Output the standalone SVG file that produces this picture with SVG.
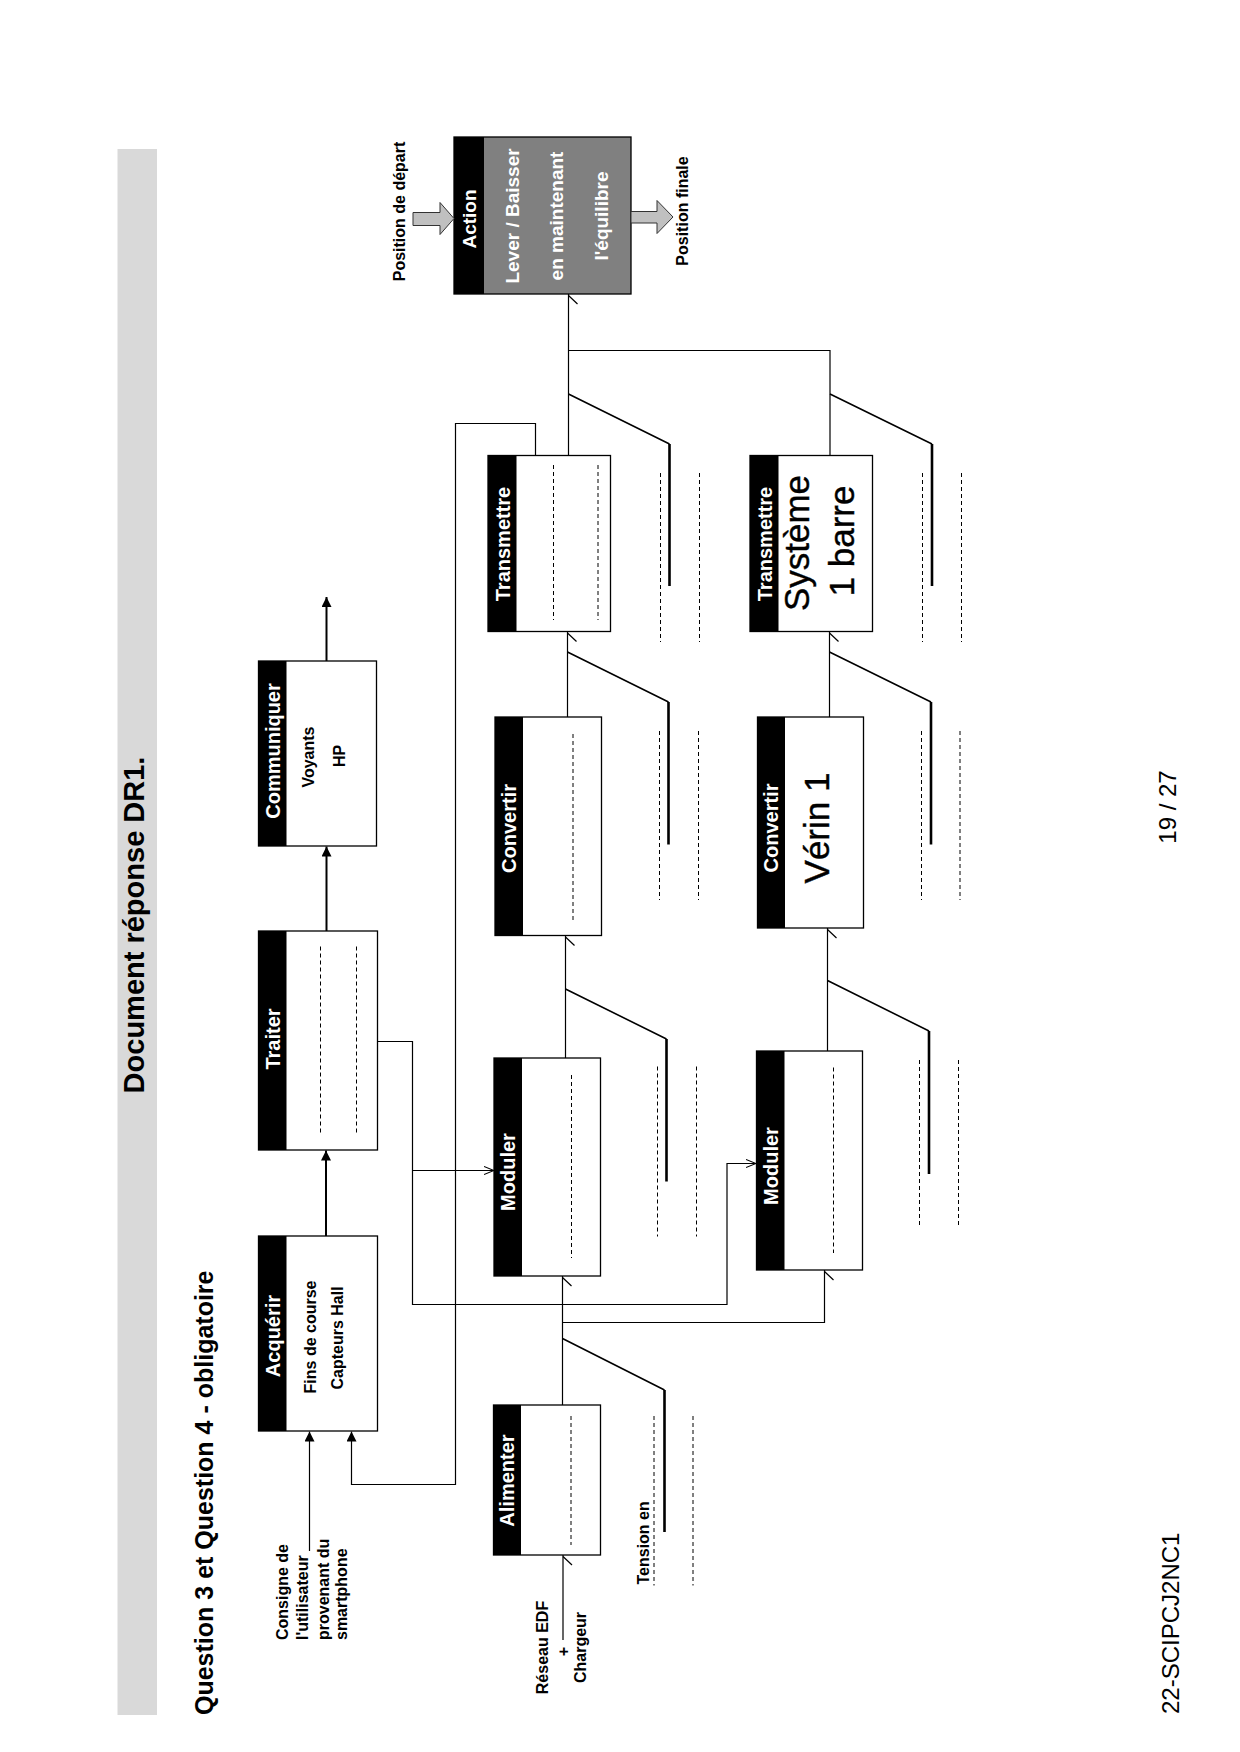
<svg xmlns="http://www.w3.org/2000/svg" width="1240" height="1752" viewBox="0 0 1240 1752">
<style>
text{font-family:"Liberation Sans",Arial,sans-serif;dominant-baseline:central}
.box{fill:#fff;stroke:#000;stroke-width:1.3}
.hdr{fill:#000}
.ht{font-size:20px;font-weight:bold;fill:#fff;text-anchor:middle}
.at{font-size:19px;font-weight:bold;fill:#fff;text-anchor:middle}
.bt{font-size:16px;font-weight:bold;fill:#000;text-anchor:middle}
.lb{font-size:16px;font-weight:bold;fill:#000}
.big{font-size:35px;fill:#000;stroke:#000;stroke-width:0.4;text-anchor:middle}
.ln{stroke:#000;stroke-width:1.2;fill:none}
.fl{stroke:#000;stroke-width:2;fill:none}
.dg{stroke:#000;stroke-width:1.6;fill:none}
.th{stroke:#000;stroke-width:2.6;fill:none}
.ds{stroke:#000;stroke-width:1;stroke-dasharray:4 3;fill:none}
.ba{fill:#c0c0c0;stroke:#333;stroke-width:1}
</style>
<defs>
<marker id="fa" viewBox="0 0 10 10" refX="10" refY="5" markerWidth="10" markerHeight="10" markerUnits="userSpaceOnUse" orient="auto"><path d="M0,0 L10,5 L0,10 z" fill="#000"/></marker>
<marker id="oa" viewBox="0 0 10 10" refX="10" refY="5" markerWidth="10" markerHeight="10" markerUnits="userSpaceOnUse" orient="auto"><path d="M0,1 L10,5 L0,9" fill="none" stroke="#000" stroke-width="1.1"/></marker>
</defs>
<rect width="1240" height="1752" fill="#fff"/>
<g id="page">
<rect x="117.5" y="149" width="39.5" height="1566" fill="#d9d9d9"/>
<text transform="translate(134,925) rotate(-90)" font-size="29" font-weight="bold" text-anchor="middle">Document réponse DR1.</text>
<text transform="translate(204,1715) rotate(-90)" font-size="25" font-weight="bold">Question 3 et Question 4 - obligatoire</text>
<text transform="translate(1167,807) rotate(-90)" font-size="24" text-anchor="middle">19 / 27</text>
<text transform="translate(1170,1714) rotate(-90)" font-size="24">22-SCIPCJ2NC1</text>
</g>
<g id="connectors">
<path class="ln" d="M568.5,294 V455.5 M568.5,350.5 H830 V455.5"/>
<path class="ln" d="M567.5,631.5 V717 M565.5,935.5 V1058 M562.5,1276 V1405 M563,1555 V1640"/>
<path class="ln" d="M562.5,1322.5 H824.5 V1270"/>
<path class="ln" d="M829.5,631.5 V717 M827.5,928 V1051"/>
<path class="ln" d="M377.5,1041.5 H412.5 V1304.5 H727 V1163.5 H756" marker-end="url(#oa)"/>
<path class="ln" d="M412.5,1170.5 H494" marker-end="url(#oa)"/>
<path class="ln" d="M535.5,455.5 V423.5 H455.5 V1484.5 H351.5 V1431.5" marker-end="url(#fa)"/>
<path class="ln" d="M309.5,1551 V1431.5" marker-end="url(#fa)"/>
<path class="fl" d="M326,1236 V1150.5" marker-end="url(#fa)"/>
<path class="fl" d="M326.5,931 V846.5" marker-end="url(#fa)"/>
<path class="fl" d="M326.5,661 V597" marker-end="url(#fa)"/>
<path class="ln" d="M568.5,295.5 l9,8.5 M567.5,633 l9,8.5 M565.5,937 l9,8.5 M562.5,1277.5 l9,8.5 M563,1556.5 l9,8.5 M829.5,633 l9,8.5 M827.5,929.5 l9,8.5 M824.5,1271.5 l9,8.5"/>
<path class="dg" d="M568.5,394 L669.5,444 M830,394 L932,444 M567.5,652 L668.5,702 M829.5,652 L931,702 M565.5,989 L666.5,1039 M827.5,980.5 L929,1031 M562.5,1338.5 L664.5,1390"/>
<path class="th" d="M669.5,444 V586 M932,444 V586 M668.5,702 V844.5 M931,702 V844.5 M666.5,1039 V1181.5 M929,1031 V1174 M664.5,1390 V1532"/>
<path class="ds" d="M660.5,473 V642 M699.5,473 V642 M922.5,473 V642 M961.5,473 V642 M659.5,731 V900 M698.5,731 V900 M921.5,731 V900 M960,731 V900 M657.5,1066.5 V1236.5 M696.5,1066.5 V1236.5 M919.5,1060 V1228 M958.5,1060 V1228 M654,1416 V1585.5 M693,1416 V1585.5"/>
</g>
<g id="action">
<rect x="454" y="137" width="177" height="157" fill="#808080" stroke="#000" stroke-width="1.3"/>
<rect x="454" y="137" width="30" height="157" class="hdr"/>
<text class="at" transform="translate(469,219) rotate(-90)">Action</text>
<text class="at" transform="translate(512.5,216) rotate(-90)">Lever / Baisser</text>
<text class="at" transform="translate(556.5,216) rotate(-90)">en maintenant</text>
<text class="at" transform="translate(601,216) rotate(-90)">l'équilibre</text>
</g>
<g id="pos-depart">
<polygon class="ba" points="413,212.5 440,212.5 440,202.5 454,218.5 440,234.5 440,225.5 413,225.5"/>
<text class="bt" transform="translate(399,211.5) rotate(-90)">Position de départ</text>
</g>
<g id="pos-finale">
<polygon class="ba" points="631,211.5 657,211.5 657,200.5 673,217 657,233.5 657,223 631,223"/>
<text class="bt" transform="translate(682.5,211) rotate(-90)">Position finale</text>
</g>
<g id="acquerir">
<rect class="box" x="258.5" y="1236" width="119" height="195"/>
<rect class="hdr" x="258.5" y="1236" width="28" height="195"/>
<text class="ht" transform="translate(272.5,1336) rotate(-90)">Acquérir</text>
<text class="bt" transform="translate(310.5,1337) rotate(-90)">Fins de course</text>
<text class="bt" transform="translate(337.5,1338) rotate(-90)">Capteurs Hall</text>
</g>
<g id="traiter">
<rect class="box" x="258.5" y="931" width="119" height="219"/>
<rect class="hdr" x="258.5" y="931" width="28" height="219"/>
<text class="ht" transform="translate(272.5,1039) rotate(-90)">Traiter</text>
<path class="ds" d="M320.5,946.5 V1134 M356.5,946.5 V1134"/>
</g>
<g id="communiquer">
<rect class="box" x="258.5" y="661" width="118" height="185"/>
<rect class="hdr" x="258.5" y="661" width="28" height="185"/>
<text class="ht" transform="translate(272.5,751) rotate(-90)">Communiquer</text>
<text class="bt" transform="translate(308,757) rotate(-90)">Voyants</text>
<text class="bt" transform="translate(339.5,756) rotate(-90)">HP</text>
</g>
<g id="consigne">
<text class="lb" transform="translate(282,1640) rotate(-90)">Consigne de</text>
<text class="lb" transform="translate(302,1640) rotate(-90)">l'utilisateur</text>
<text class="lb" transform="translate(323,1640) rotate(-90)">provenant du</text>
<text class="lb" transform="translate(341,1640) rotate(-90)">smartphone</text>
</g>
<g id="alimenter">
<rect class="box" x="493.5" y="1405" width="107" height="150"/>
<rect class="hdr" x="493.5" y="1405" width="27.5" height="150"/>
<text class="ht" transform="translate(507,1480.5) rotate(-90)">Alimenter</text>
<path class="ds" d="M571,1416 V1545"/>
</g>
<g id="reseau">
<text class="bt" transform="translate(542,1647.5) rotate(-90)">Réseau EDF</text>
<text class="bt" transform="translate(563,1651.5) rotate(-90)">+</text>
<text class="bt" transform="translate(580.5,1647.5) rotate(-90)">Chargeur</text>
</g>
<g id="tension">
<text class="lb" transform="translate(643.5,1584.5) rotate(-90)">Tension en</text>
</g>
<g id="moduler1">
<rect class="box" x="494" y="1058" width="106.5" height="218"/>
<rect class="hdr" x="494" y="1058" width="28" height="218"/>
<text class="ht" transform="translate(508,1172) rotate(-90)">Moduler</text>
<path class="ds" d="M571.5,1075 V1258"/>
</g>
<g id="convertir1">
<rect class="box" x="495" y="717" width="106.5" height="218.5"/>
<rect class="hdr" x="495" y="717" width="28" height="218.5"/>
<text class="ht" transform="translate(509,828.5) rotate(-90)">Convertir</text>
<path class="ds" d="M573,734 V921"/>
</g>
<g id="transmettre1">
<rect class="box" x="488" y="455.5" width="122.5" height="176"/>
<rect class="hdr" x="488" y="455.5" width="28.5" height="176"/>
<text class="ht" transform="translate(502.5,544) rotate(-90)">Transmettre</text>
<path class="ds" d="M553.5,465 V620 M598,465 V620"/>
</g>
<g id="moduler2">
<rect class="box" x="756.5" y="1051" width="106" height="219"/>
<rect class="hdr" x="756.5" y="1051" width="28" height="219"/>
<text class="ht" transform="translate(770.5,1166) rotate(-90)">Moduler</text>
<path class="ds" d="M833.5,1067.5 V1253"/>
</g>
<g id="convertir2">
<rect class="box" x="757.5" y="717" width="106" height="211"/>
<rect class="hdr" x="757.5" y="717" width="27.5" height="211"/>
<text class="ht" transform="translate(771,828) rotate(-90)">Convertir</text>
<text class="big" font-size="34" transform="translate(816,828) rotate(-90)">Vérin 1</text>
</g>
<g id="transmettre2">
<rect class="box" x="750" y="455.5" width="122.5" height="176"/>
<rect class="hdr" x="750" y="455.5" width="28.5" height="176"/>
<text class="ht" transform="translate(764.5,544) rotate(-90)">Transmettre</text>
<text class="big" transform="translate(796,543) rotate(-90)">Système</text>
<text class="big" transform="translate(841,541) rotate(-90)">1 barre</text>
</g>
</svg>
